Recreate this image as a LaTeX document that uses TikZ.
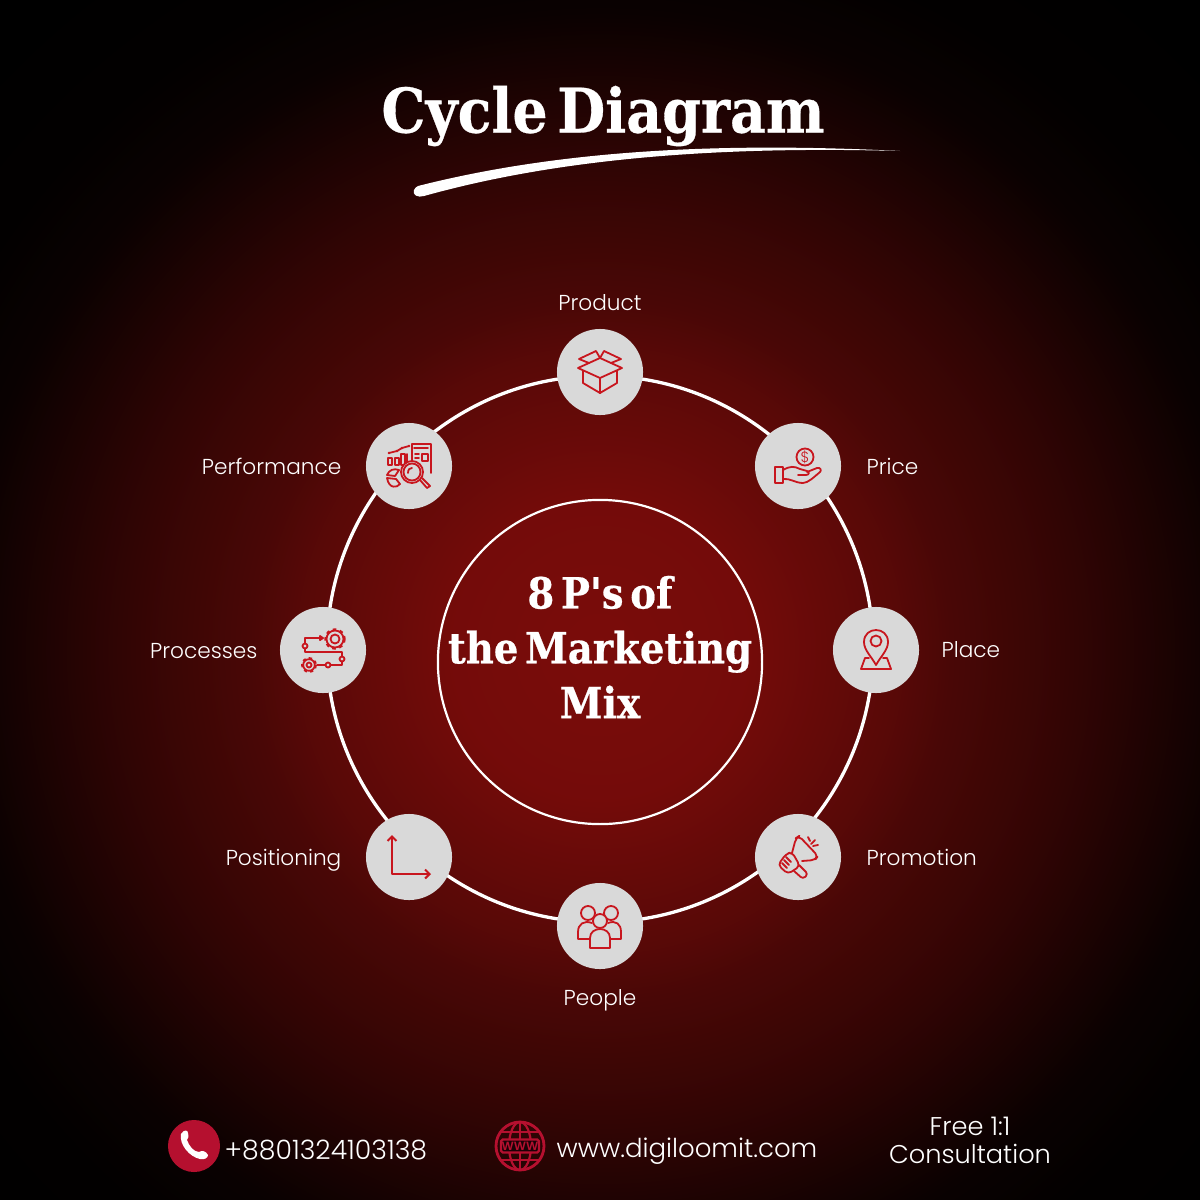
\documentclass[tikz,border=0pt]{standalone}
\usepackage{fontspec}
\usetikzlibrary{arrows.meta}
\setmainfont{Poppins}[UprightFont=* Light]
\newfontfamily\titlefont{DejaVu Serif Condensed}[WordSpace=0.5,BoldFeatures={FakeBold=0.5}]
\definecolor{glowred}{HTML}{7A0C0A}
\definecolor{iconred}{HTML}{C8161E}
\definecolor{discgrey}{HTML}{D9D9D9}
\definecolor{callred}{HTML}{B5102F}
\pgfdeclareradialshading{bgglow}{\pgfpoint{0bp}{0bp}}{
  color(0bp)=(glowred);
  color(4.4bp)=(glowred!95!black);
  color(8.8bp)=(glowred!72!black);
  color(10.3bp)=(glowred!60!black);
  color(13.2bp)=(glowred!45!black);
  color(14.7bp)=(glowred!36!black);
  color(17.6bp)=(glowred!16!black);
  color(18.8bp)=(glowred!8!black);
  color(21.2bp)=(glowred!2!black);
  color(25bp)=(black);
  color(50bp)=(black)}
\tikzset{
  disc/.style={circle,fill=discgrey,minimum size=0.86cm,inner sep=0pt},
  plabel/.style={text=white,font=\fontsize{6.15}{7}\selectfont,inner sep=0pt},
  icon/.style={draw=iconred,line width=0.18mm,line join=round,line cap=round},
  foot/.style={text=white,font=\fontsize{7.6}{9}\selectfont,inner sep=0pt,align=center}
}
\begin{document}
\begin{tikzpicture}[x=0.01cm,y=-0.01cm]
\useasboundingbox (0,0) rectangle (1200,1200);

% ===== background =====
\fill[black] (0,0) rectangle (1200,1200);
\begin{scope}
\clip (0,0) rectangle (1200,1200);
\shade[shading=bgglow] (600,650) circle (850);
\end{scope}

% ===== title =====
\node[text=white,font=\titlefont\bfseries\fontsize{17.5}{20}\selectfont,inner sep=0pt] (title) at (603,116) {Cycle Diagram};
\fill[white] (414,190) .. controls (412,195) and (418,198) .. (424,196)
  .. controls (560,158) and (720,146) .. (900,151)
  .. controls (720,142) and (560,150) .. (418,186)
  .. controls (416,187) and (415,188) .. (414,190) -- cycle;

% ===== rings =====
\node[circle,draw=white,line width=0.33mm,minimum size=5.46cm,inner sep=0pt] (ring) at (600,649) {};
\node[circle,draw=white,line width=0.22mm,minimum size=3.24cm,inner sep=0pt] (core) at (600,662) {};
\node[text=white,align=center,inner sep=0pt,
  font=\titlefont\bfseries\fontsize{12.2}{15.6}\selectfont] (coretext) at (600,647) {8 P's of\\the Marketing\\Mix};

% ===== discs =====
\node[disc] (product) at (600,372) {};
\node[disc] (price) at (798,466) {};
\node[disc] (place) at (876,650) {};
\node[disc] (promotion) at (798,857) {};
\node[disc] (people) at (600,926) {};
\node[disc] (positioning) at (409,857) {};
\node[disc] (processes) at (323,650) {};
\node[disc] (performance) at (409,466) {};

% ===== labels =====
\node[plabel,anchor=base] (productlabel) at (600,310) {Product};
\node[plabel,anchor=base west] (pricelabel) at (866,474) {Price};
\node[plabel,anchor=base west] (placelabel) at (941,657) {Place};
\node[plabel,anchor=base west] (promotionlabel) at (866,865) {Promotion};
\node[plabel,anchor=base] (peoplelabel) at (600,1005) {People};
\node[plabel,anchor=base east] (positioninglabel) at (342,865) {Positioning};
\node[plabel,anchor=base east] (processeslabel) at (258,658) {Processes};
\node[plabel,anchor=base east] (performancelabel) at (342,474) {Performance};

% ===== icon: box =====
\begin{scope}[shift={(product.center)}]
\draw[icon] (-17,-1) -- (-17,11) -- (0,21) -- (17,11) -- (17,-1);
\draw[icon] (-22,-4) -- (0,6) -- (22,-4) -- (0,-14) -- cycle;
\draw[icon] (0,6) -- (0,21);
\draw[icon] (-11,-9) -- (-21,-13) -- (-4,-21) -- (0,-14) -- (4,-21) -- (21,-13) -- (11,-9);
\end{scope}

% ===== icon: hand and coin =====
\begin{scope}[shift={(price.center)}]
\draw[icon] (7,-9) circle (8.5);
\node[text=iconred,font=\fontsize{4.2}{5}\selectfont,inner sep=0pt] (dollar) at (7,-9) {\$};
\draw[icon] (-23,1) rectangle (-15,17);
\draw[icon] (-15,4) .. controls (-8,0) and (-4,0) .. (2,3) -- (9,5) .. controls (12,6) and (11,9) .. (8,9) -- (0,9);
\draw[icon] (9,6) -- (19,2) .. controls (22,1) and (24,4) .. (22,6) .. controls (16,11) and (10,17) .. (5,17) .. controls (-3,17) and (-8,12) .. (-15,13);
\end{scope}

% ===== icon: pin =====
\begin{scope}[shift={(place.center)}]
\draw[icon] (0,15) .. controls (-5,6) and (-12,0) .. (-12,-8) .. controls (-12,-24) and (12,-24) .. (12,-8) .. controls (12,0) and (5,6) .. (0,15) -- cycle;
\draw[icon] (0,-9) circle (5.5);
\draw[icon] (-7,8) -- (-11,8) -- (-15,19) -- (15,19) -- (11,8) -- (7,8);
\end{scope}

% ===== icon: megaphone =====
\begin{scope}[shift={(promotion.center)}]
\draw[icon,rounded corners=0.4mm] (-6,-4) -- (-2,-19) -- (1,-21) -- (20,-1) -- (17,3) -- (4,4);
\draw[icon,rounded corners=0.4mm] (-12,-3) -- (-20,8) -- (-10,17) -- (2,9) -- (-6,-5) -- cycle;
\draw[icon] (-14,3) -- (-9,8);
\draw[icon] (-12,0) -- (-7,5);
\draw[icon] (-16,6) -- (-11,11);
\draw[icon,rounded corners=0.3mm] (-4,14) -- (5,22) -- (10,17) -- (1,8);
\draw[icon] (10,-20) -- (12,-16);
\draw[icon] (17,-17) -- (13,-13);
\draw[icon] (20,-12) -- (15,-11);
\end{scope}

% ===== icon: people =====
\begin{scope}[shift={(people.center)}]
\draw[icon] (-12,-13) circle (7);
\draw[icon] (11,-13) circle (7);
\draw[icon] (-8,-3) .. controls (-16,-6) and (-22,-2) .. (-22,6) -- (-22,13) -- (-10,13);
\draw[icon] (8,-3) .. controls (16,-6) and (21,-2) .. (21,6) -- (21,13) -- (10,13);
\draw[icon,fill=discgrey] (0,-5) circle (7);
\draw[icon,fill=discgrey] (-10,22) -- (-10,12) .. controls (-10,0) and (10,0) .. (10,12) -- (10,22) -- cycle;
\end{scope}

% ===== icon: axes =====
\begin{scope}[shift={(positioning.center)}]
\coordinate (axistop) at (-17,-22);
\coordinate (axisorigin) at (-17,17);
\coordinate (axisright) at (22,17);
\draw[icon,{Straight Barb[length=0.45mm,width=0.9mm]}-{Straight Barb[length=0.45mm,width=0.9mm]},line width=0.2mm] (axistop) -- (axisorigin) -- (axisright);
\end{scope}

% ===== icon: process =====
\begin{scope}[shift={(processes.center)}]
\draw[icon,dash pattern=on 1pt off 1pt,line width=0.25mm,line cap=butt] (12,-11) circle (9.5);
\draw[icon] (12,-11) circle (8.5);
\draw[icon] (12,-11) circle (4.5);
\draw[icon,dash pattern=on 0.9pt off 0.9pt,line width=0.22mm,line cap=butt] (-14,15) circle (6.8);
\draw[icon] (-14,15) circle (5.8);
\draw[icon] (-14,15) circle (2.5);
\draw[icon] (-18,-6.5) -- (-18,-12) -- (-2,-12);
\draw[icon,fill=iconred] (-3,-14) -- (0,-12) -- (-3,-10) -- cycle;
\draw[icon] (-18,-1.5) -- (-18,2) -- (19,2) -- (19,6.5);
\draw[icon] (19,11.5) -- (19,15) -- (7.5,15);
\draw[icon] (-6,15) -- (2.5,15);
\draw[icon] (-18,-4) circle (2.5);
\draw[icon] (19,9) circle (2.5);
\draw[icon] (5,15) circle (2.5);
\end{scope}

% ===== icon: report =====
\begin{scope}[shift={(performance.center)}]
\draw[icon] (3,-5) -- (3,-22) -- (22,-22) -- (22,7);
\draw[icon] (5,-18) -- (19,-18);
\draw[icon] (6,-12) -- (10,-12);
\draw[icon] (6,-8) -- (10,-8);
\draw[icon] (13,-12) rectangle (19,-5);
\draw[icon] (-20,-13) -- (-12,-15) -- (-7,-18) -- (0,-20);
\fill[iconred] (-20,-13) circle (1.3) (-12,-15) circle (1.3) (-7,-18) circle (1.3) (0,-20) circle (1.3);
\draw[icon] (-21,-8) rectangle (-17,-1);
\draw[icon] (-14,-8) rectangle (-10,-1);
\draw[icon] (-8,-12) rectangle (-4,-1);
\draw[icon] (-2,-12) -- (-2,-4);
\draw[icon,fill=discgrey] (3,6) circle (11);
\draw[icon] (3,6) circle (8.5);
\draw[icon] (-1,7) .. controls (-1,3) and (1,2) .. (3,2);
\draw[icon] (11,14) -- (18,22) -- (21,20) -- (13,12);
\draw[icon] (-22,9) .. controls (-20,4) and (-15,2) .. (-10,4) -- (-14,10) -- cycle;
\draw[icon] (-22,12) -- (-13,13) -- (-9,18) .. controls (-12,22) and (-20,23) .. (-22,12) -- cycle;
\end{scope}

% ===== footer =====
\node[circle,fill=callred,minimum size=0.52cm,inner sep=0pt] (callbadge) at (194,1146) {};
\fill[white,shift={(callbadge.center)}] (-13,-12) .. controls (-10,-17) and (-6,-16) .. (-6,-13) .. controls (-5,-9) and (-6,-8) .. (-7,-6)
  .. controls (-5,0) and (0,6) .. (5,6) .. controls (8,4) and (12,5) .. (14,9) .. controls (14,12) and (10,14) .. (6,13)
  .. controls (-4,11) and (-15,-1) .. (-13,-12) -- cycle;
\node[foot,anchor=base west] (phone) at (224,1159) {+8801324103138};
\begin{scope}[shift={(520,1146)}]
\draw[callred,line width=0.28mm] (0,0) circle (24);
\draw[callred,line width=0.22mm] (0,0) ellipse (11 and 24);
\draw[callred,line width=0.22mm] (0,-24) -- (0,24);
\draw[callred,line width=0.22mm] (-20,-14) -- (20,-14);
\draw[callred,line width=0.22mm] (-20,14) -- (20,14);
\node[draw=callred,fill=black!85!callred,rounded corners=0.5pt,text=callred,line width=0.22mm,minimum width=0.38cm,minimum height=0.13cm,inner sep=0pt,
  font=\bfseries\fontsize{3.4}{4}\selectfont] (wwwbadge) at (0,0) {WWW};
\end{scope}
\node[foot,anchor=base west,font=\fontsize{7.4}{9}\selectfont] (site) at (556,1157) {www.digiloomit.com};
\node[foot,font=\fontsize{7.3}{8}\selectfont] (offer) at (970,1140) {Free 1:1\\Consultation};
\end{tikzpicture}
\end{document}
